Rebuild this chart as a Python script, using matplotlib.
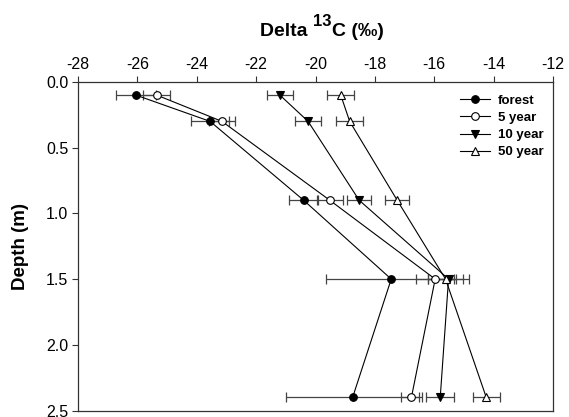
import matplotlib
matplotlib.use("Agg")
import matplotlib.pyplot as plt

plt.rcParams['font.family'] = ['Liberation Sans', 'DejaVu Sans']

depth = [0.1, 0.3, 0.9, 1.5, 2.4]
forest = [-26.05, -23.55, -20.4, -17.45, -18.75]
forest_err = [0.68, 0.65, 0.5, 2.18, 2.25]
year5 = [-25.35, -23.15, -19.52, -15.97, -16.77]
year5_err = [0.45, 0.45, 0.43, 0.65, 0.35]
year10 = [-21.2, -20.25, -18.53, -15.52, -15.8]
year10_err = [0.45, 0.45, 0.4, 0.68, 0.48]
year50 = [-19.15, -18.85, -17.25, -15.62, -14.25]
year50_err = [0.45, 0.45, 0.4, 0.6, 0.46]

xticks = [-28, -26, -24, -22, -20, -18, -16, -14, -12]
yticks = [0.0, 0.5, 1.0, 1.5, 2.0, 2.5]

fig = plt.figure(figsize=(5.69, 4.17), dpi=100)
ax = fig.add_axes([0.137, 0.0155, 0.835, 0.788])

series = [
    (forest, forest_err, 'o', 'black', 'forest'),
    (year5, year5_err, 'o', 'white', '5 year'),
    (year10, year10_err, 'v', 'black', '10 year'),
    (year50, year50_err, '^', 'white', '50 year'),
]
for vals, err, mk, fc, lab in series:
    ax.errorbar(vals, depth, xerr=err, fmt='none', ecolor='#444444',
                elinewidth=0.9, capsize=3.5, capthick=0.9, zorder=2)
    ax.plot(vals, depth, color='black', lw=0.8, marker=mk, markersize=5.5,
            markerfacecolor=fc, markeredgecolor='black', markeredgewidth=0.8,
            label=lab, zorder=3)

ax.set_xlim(-28, -12)
ax.set_ylim(2.5, 0.0)
ax.set_xticks(xticks)
ax.set_xticklabels([str(t) for t in xticks])
ax.set_yticks(yticks)
ax.set_yticklabels([f"{t:.1f}" for t in yticks])
ax.xaxis.set_ticks_position('top')
ax.xaxis.set_label_position('top')
ax.tick_params(axis='x', direction='out', length=4, width=0.8, labelsize=11.5,
               pad=3, colors='#333333', labelcolor='black')
ax.tick_params(axis='y', direction='out', length=4, width=0.8, labelsize=11.5,
               pad=3, colors='#333333', labelcolor='black')
for sp in ax.spines.values():
    sp.set_color('#333333')
    sp.set_linewidth(0.9)

ax.set_ylabel('Depth (m)', fontsize=13.5, fontweight='bold', labelpad=12)

# Title "Delta 13C (‰)" with a large superscript, built from pieces
renderer = fig.canvas.get_renderer()
base_y = 1 - 36 / 417.0
center_x = 322 / 569.0
parts = [('Delta ', 14, 0), ('13', 12, 10), ('C (‰)', 14, 0)]
texts = []
for s, fs, rise in parts:
    t = fig.text(0, base_y + rise / 417.0, s, fontsize=fs, fontweight='bold',
                 va='baseline', ha='left')
    texts.append(t)
widths = [t.get_window_extent(renderer).width for t in texts]
total = sum(widths) + 1
x = center_x * 569 - total / 2
for t, w in zip(texts, widths):
    t.set_x(x / 569.0)
    x += w + 0.5

leg = ax.legend(loc='upper left', bbox_to_anchor=(0.804, 0.962), frameon=False,
                prop={'weight': 'bold', 'size': 9.5}, handlelength=2.27,
                handletextpad=0.6, labelspacing=0.38, borderaxespad=0,
                borderpad=0)

fig.savefig('out.png', dpi=100)
